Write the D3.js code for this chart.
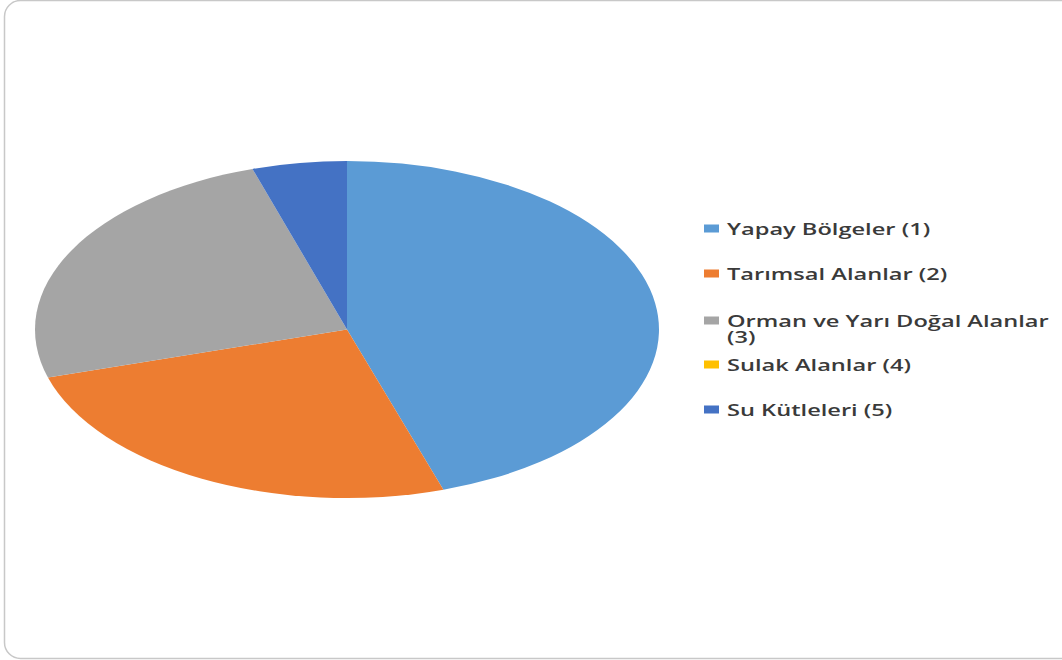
<!DOCTYPE html>
<html>
<head>
<meta charset="utf-8">
<script src="https://cdn.jsdelivr.net/npm/d3@7"></script>
<style>
  html, body { margin: 0; padding: 0; background: #fff; }
  svg { display: block; }
</style>
</head>
<body>
<svg id="chart" width="1062" height="660"></svg>
<script>
// Land-cover classes and their shares (%)
const categories = [
  "Yapay Bölgeler (1)",
  "Tarımsal Alanlar (2)",
  "Orman ve Yarı Doğal Alanlar (3)",
  "Sulak Alanlar (4)",
  "Su Kütleleri (5)"
];
const values = [45.0, 25.4, 24.7, 0, 4.9];
const colors = ["#5B9BD5", "#ED7D31", "#A5A5A5", "#FFC000", "#4472C4"];
// Legend labels split into display lines
const legendLines = [
  ["Yapay Bölgeler (1)"],
  ["Tarımsal Alanlar (2)"],
  ["Orman ve Yarı Doğal Alanlar", "(3)"],
  ["Sulak Alanlar (4)"],
  ["Su Kütleleri (5)"]
];

const svg = d3.select("#chart");

// Chart frame
svg.append("rect")
  .attr("x", 4.5).attr("y", 0.5)
  .attr("width", 1080).attr("height", 658)
  .attr("rx", 16).attr("ry", 16)
  .attr("fill", "#fff")
  .attr("stroke", "#c8c8c8")
  .attr("stroke-width", 1.5);

// Elliptical pie: circle of radius ry stretched horizontally
const cx = 347, cy = 329.5, rx = 312, ry = 168.5;
const pie = d3.pie().sort(null).value(d => d.v).startAngle(0).endAngle(2 * Math.PI);
const arc = d3.arc().innerRadius(0).outerRadius(ry);
const data = categories.map((c, i) => ({ c, v: values[i], color: colors[i] }));

const pg = svg.append("g")
  .attr("transform", `translate(${cx},${cy}) scale(${rx / ry},1)`);
pg.selectAll("path")
  .data(pie(data))
  .join("path")
  .attr("d", arc)
  .attr("fill", d => d.data.color);

// Legend (text baselines)
const baseY = [235, 280, 327, 371, 416];
const lineGap = 16;
const textX = 727;
const lg = svg.append("g");

const rows = lg.selectAll("g.row")
  .data(data)
  .join("g")
  .attr("class", "row");

rows.append("rect")
  .attr("x", 704)
  .attr("y", (d, i) => baseY[i] - 10.5)
  .attr("width", 15)
  .attr("height", 8)
  .attr("fill", d => d.color);

const texts = rows.append("text")
  .attr("font-family", "'Open Sans', 'Noto Sans', sans-serif")
  .attr("font-size", 15.2)
  .attr("font-weight", 600)
  .attr("fill", "#3a3a3a");

texts.each(function(d, i) {
  const t = d3.select(this);
  legendLines[i].forEach((line, j) => {
    t.append("tspan")
      .attr("x", 0)
      .attr("y", j * lineGap)
      .text(line);
  });
});

// Stretch labels horizontally to the legend's width
const firstLen = texts.nodes()[0].getComputedTextLength();
const sx = 203 / firstLen;
texts.attr("transform", (d, i) => `translate(${textX},${baseY[i]}) scale(${sx},1)`);
</script>
</body>
</html>
